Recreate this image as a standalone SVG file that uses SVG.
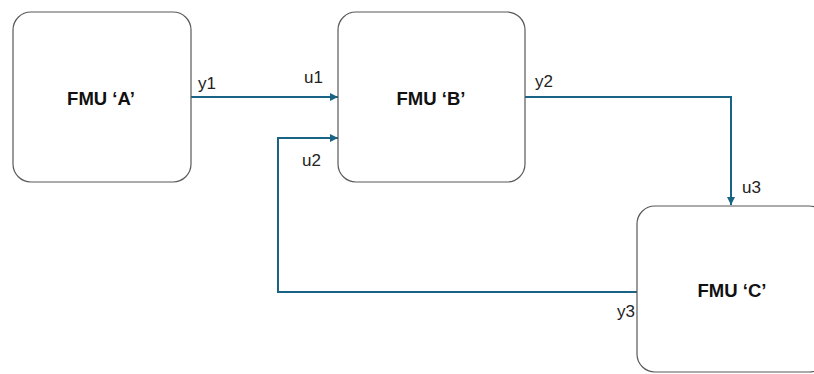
<svg xmlns="http://www.w3.org/2000/svg" width="814" height="374" viewBox="0 0 814 374">
<style>
.box{fill:#ffffff;stroke:#595959;stroke-width:1.2}
.title{font-family:"Liberation Sans",Arial,sans-serif;font-size:18.5px;font-weight:bold;fill:#111111;text-anchor:middle;dominant-baseline:central}
.lbl{font-family:"Liberation Sans",Arial,sans-serif;font-size:17px;fill:#222222}
.wire{fill:none;stroke:#1a6385;stroke-width:2}
</style>
<defs>
<marker id="arr" viewBox="0 0 10 10" refX="10" refY="5" markerWidth="4" markerHeight="4" orient="auto" markerUnits="strokeWidth">
<path d="M0,0 L10,5 L0,10 Z" fill="#1a6385"/>
</marker>
</defs>
<rect width="814" height="374" fill="#ffffff"/>
<g id="connectors">
<path id="c-y1-u1" class="wire" d="M191,97 H338" marker-end="url(#arr)"/>
<path id="c-y2-u3" class="wire" d="M525,97 H731 V205" marker-end="url(#arr)"/>
<path id="c-y3-u2" class="wire" d="M637,292 H278 V138 H338" marker-end="url(#arr)"/>
</g>
<g id="fmuA">
<rect class="box" x="13" y="12" width="178" height="170" rx="18"/>
<text class="title" x="101" y="98">FMU ‘A’</text>
</g>
<g id="fmuB">
<rect class="box" x="338" y="12" width="187" height="170" rx="18"/>
<text class="title" x="431" y="98">FMU ‘B’</text>
</g>
<g id="fmuC">
<rect class="box" x="637" y="206" width="190" height="166" rx="18"/>
<text class="title" x="732" y="290">FMU ‘C’</text>
</g>
<g id="labels">
<text class="lbl" x="198" y="89">y1</text>
<text class="lbl" x="304" y="83">u1</text>
<text class="lbl" x="302" y="166">u2</text>
<text class="lbl" x="535" y="87">y2</text>
<text class="lbl" x="742" y="193">u3</text>
<text class="lbl" x="635" y="317" text-anchor="end">y3</text>
</g>
</svg>
